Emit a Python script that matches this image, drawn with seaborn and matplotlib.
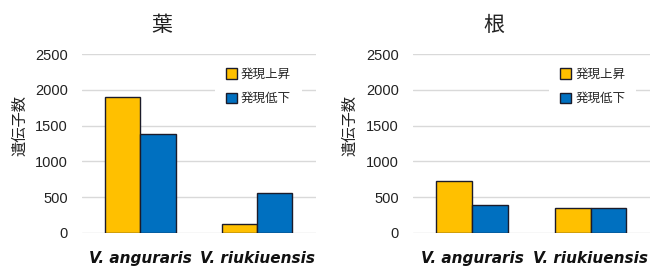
import pandas as pd
import numpy as np
import matplotlib
matplotlib.use("Agg")
import matplotlib.pyplot as plt
import seaborn as sns

# ─────────────────────────────────────────
# Data
# ─────────────────────────────────────────
SPECIES   = ["V. anguraris", "V. riukiuensis"]
DIRECTION = ["発現上昇", "発現低下"]

LEAF_UP   = [1900, 120]
LEAF_DOWN = [1390, 560]
ROOT_UP   = [720, 350]
ROOT_DOWN = [390, 350]

PANEL_TITLES = ["葉", "根"]
Y_TICKS      = [0, 500, 1000, 1500, 2000, 2500]
Y_LABEL      = "遺伝子数"

COLORS = ["#FFC000", "#0070C0"]
EDGE   = "#1b1b2a"
GRID   = "#d9d9d9"


def long_df(up, down):
    rows = []
    for sp, u, d in zip(SPECIES, up, down):
        rows.append({"species": sp, "dir": DIRECTION[0], "n": u})
        rows.append({"species": sp, "dir": DIRECTION[1], "n": d})
    return pd.DataFrame(rows)


sns.set_theme(style="white")
plt.rcParams["font.family"] = ["Liberation Sans", "Noto Sans CJK JP", "DejaVu Sans"]

fig = plt.figure(figsize=(6.5, 2.73), dpi=100)

# axes rectangles in figure fractions (left, bottom, width, height)
panels = [
    (long_df(LEAF_UP, LEAF_DOWN), PANEL_TITLES[0], [0.126, 0.1476, 0.360, 0.6535], 0.568),
    (long_df(ROOT_UP, ROOT_DOWN), PANEL_TITLES[1], [0.635, 0.1476, 0.365, 0.6535], 0.574),
]

for df, title, rect, leg_x in panels:
    ax = fig.add_axes(rect)
    sns.barplot(data=df, x="species", y="n", hue="dir", hue_order=DIRECTION,
                palette=COLORS, saturation=1, width=0.6, edgecolor=EDGE,
                linewidth=1, errorbar=None, ax=ax, zorder=3)

    ax.set_ylim(0, 2500)
    ax.set_xlim(-0.5, 1.5)
    ax.set_yticks(Y_TICKS)
    ax.yaxis.grid(True, color=GRID, linewidth=1, zorder=0)
    ax.xaxis.grid(False)
    ax.set_axisbelow(True)
    for s in ax.spines.values():
        s.set_visible(False)

    ax.tick_params(axis="y", length=0, pad=10, labelsize=10.5, colors="#222222")
    ax.tick_params(axis="x", length=0, pad=13)
    for lbl in ax.get_xticklabels():
        lbl.set_fontfamily("DejaVu Sans")
        lbl.set_fontweight("bold")
        lbl.set_fontstyle("italic")
        lbl.set_fontsize(11)
        lbl.set_color("#111111")

    ax.set_xlabel("")
    ax.set_ylabel(Y_LABEL, fontsize=11, color="#222222")
    ax.yaxis.set_label_coords(-0.235, 0.6)

    ax.text(0.34, 1.165, title, transform=ax.transAxes, ha="center", va="center",
            fontsize=15, color="#222222")

    leg = ax.legend(loc="upper left", bbox_to_anchor=(leg_x, 0.985),
                    frameon=True, fancybox=False, framealpha=1,
                    facecolor="white", edgecolor="none",
                    fontsize=9, handlelength=0.9, handleheight=0.9,
                    handletextpad=0.3, labelspacing=0.95, borderpad=0.9,
                    borderaxespad=0)
    leg.set_zorder(5)

fig.savefig("out.png", dpi=100)
